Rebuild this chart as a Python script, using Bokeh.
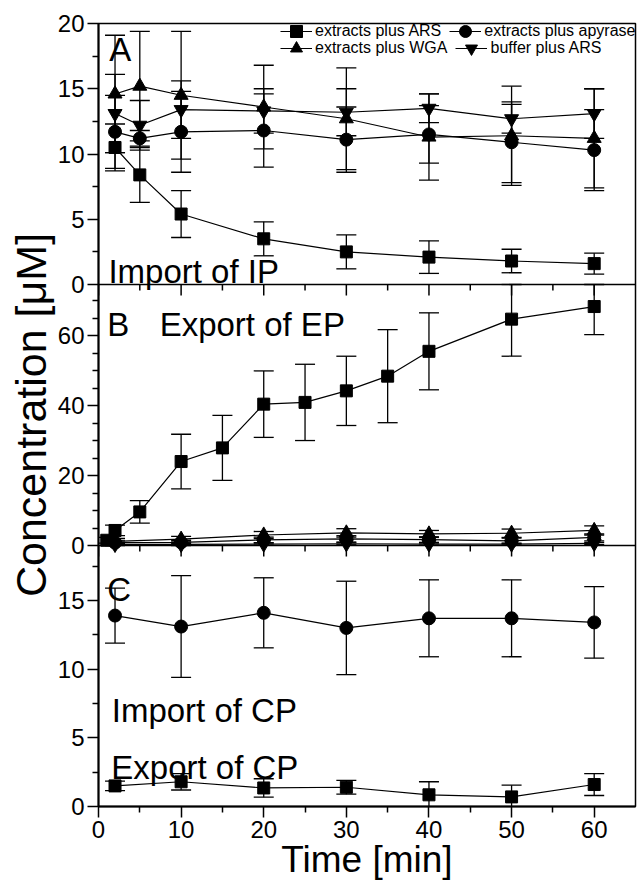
from bokeh.plotting import figure
from bokeh.models import (ColumnDataSource, Whisker, TeeHead, Range1d,
                          FixedTicker, Legend, LegendItem, Label,
                          CustomJSTickFormatter, Span)
from bokeh.embed import file_html
from bokeh.resources import INLINE

FONT = "Liberation Sans"

# ---------------- data ----------------
# Panel A: Import of IP
a_time = [2, 5, 10, 20, 30, 40, 50, 60]
a_ars = [10.5, 8.4, 5.4, 3.5, 2.5, 2.1, 1.8, 1.6]
a_ars_err = [1.8, 2.1, 1.8, 1.3, 1.3, 1.25, 0.9, 0.8]
a_apyrase = [11.7, 11.2, 11.7, 11.8, 11.1, 11.5, 10.9, 10.3]
a_apyrase_err = [2.8, 0.6, 3.1, 2.8, 2.5, 2.2, 3.1, 3.1]
a_wga = [14.6, 15.2, 14.5, 13.6, 12.7, 11.3, 11.4, 11.2]
a_wga_err = [4.5, 4.2, 4.9, 3.2, 3.9, 3.3, 3.8, 3.8]
a_buffer = [13.1, 12.2, 13.4, 13.3, 13.2, 13.5, 12.7, 13.1]
a_buffer_err = [3.0, 1.9, 2.2, 1.7, 1.8, 1.1, 1.1, 1.9]

# Panel B: Export of EP
b_time = [1, 2, 5, 10, 15, 20, 25, 30, 35, 40, 50, 60]
b_ars = [1.5, 4.3, 9.6, 24.0, 27.9, 40.4, 40.9, 44.2, 48.4, 55.5, 64.7, 68.3]
b_ars_err = [0.8, 1.5, 3.2, 7.8, 9.3, 9.5, 10.9, 9.9, 13.3, 11.0, 10.6, 8.0]
b_time2 = [2, 10, 20, 30, 40, 50, 60]
b_wga = [1.2, 1.8, 3.0, 3.6, 3.3, 3.5, 4.3]
b_wga_err = [0.8, 0.8, 1.0, 1.2, 1.0, 1.2, 1.3]
b_apyrase = [0.8, 0.9, 1.6, 1.9, 1.7, 1.3, 2.3]
b_apyrase_err = [0.5, 0.6, 0.8, 0.9, 0.8, 0.8, 1.0]
b_buffer = [0.3, 0.3, 0.4, 0.5, 0.4, 0.4, 0.6]
b_buffer_err = [0.3, 0.3, 0.3, 0.3, 0.3, 0.3, 0.3]

# Panel C: Import / Export of CP
c_time = [2, 10, 20, 30, 40, 50, 60]
c_import = [13.9, 13.1, 14.1, 13.0, 13.7, 13.7, 13.4]
c_import_err = [2.0, 3.7, 2.55, 3.4, 2.8, 2.8, 2.6]
c_export = [1.5, 1.8, 1.35, 1.4, 0.85, 0.7, 1.6]
c_export_err = [0.35, 0.6, 0.67, 0.5, 0.95, 0.85, 0.8]

labels = ["extracts plus ARS", "extracts plus WGA", "extracts plus apyrase", "buffer plus ARS"]

# axis extents and tick values of the three stacked panels
A_END, B_END, C_END, X_END = 20, 74.6, 19, 65
a_yticks = [0, 5, 10, 15, 20]
b_yticks = [0, 20, 40, 60]
c_yticks = [0, 5, 10, 15]
a_yminor = [2.5, 7.5, 12.5, 17.5]
b_yminor = [5, 10, 15, 25, 30, 35, 45, 50, 55, 65, 70]
c_yminor = [2.5, 7.5, 12.5, 17.5]
x_major = [0, 10, 20, 30, 40, 50, 60]
x_minor = [5, 15, 25, 35, 45, 55]

# ---------------- figure ----------------
FRAME_H = 783
PANEL_PX = FRAME_H / 3.0        # pixels per panel (one unit of the shared y range)

p = figure(frame_width=537, frame_height=FRAME_H,
           x_range=Range1d(0, X_END), y_range=Range1d(0, 3),
           output_backend="svg", toolbar_location=None,
           x_axis_location="below", y_axis_location="left",
           min_border_left=98, min_border_right=2,
           min_border_top=23, min_border_bottom=75)
# each panel's own value range; panel C at the bottom, B in the middle, A on top
p.extra_y_ranges = {"A": Range1d(-2 * A_END, A_END),
                    "B": Range1d(-B_END, 2 * B_END),
                    "C": Range1d(0, 3 * C_END)}
p.grid.visible = False
p.outline_line_color = "black"
p.outline_line_width = 1.5
p.background_fill_color = "white"
p.border_fill_color = "white"


def tick_style(ax):
    ax.major_tick_out = 11
    ax.major_tick_in = 0
    ax.minor_tick_out = 6
    ax.minor_tick_in = 0
    ax.major_tick_line_width = 1.5
    ax.minor_tick_line_width = 1.5
    ax.major_tick_line_color = "black"
    ax.minor_tick_line_color = "black"
    ax.axis_line_color = "black"
    ax.axis_line_width = 2
    ax.major_label_text_font = FONT
    ax.major_label_text_font_size = "24px"
    ax.major_label_text_color = "black"
    ax.major_label_standoff = 3


# shared left axis: panel values mapped onto the stacked panel units
pos, lab = [], []
for off, end, ticks in ((0, C_END, c_yticks), (1, B_END, b_yticks), (2, A_END, a_yticks)):
    for v in ticks:
        pos.append(off + v / end)
        lab.append(str(v))
minor_pos = ([v / C_END for v in c_yminor] + [1 + v / B_END for v in b_yminor] +
             [2 + v / A_END for v in a_yminor])

ya = p.yaxis[0]
ya.ticker = FixedTicker(ticks=pos, minor_ticks=minor_pos)
ya.formatter = CustomJSTickFormatter(args=dict(pos=pos, lab=lab), code="""
    let best = ''; let d = 1e9;
    for (let i = 0; i < pos.length; i++) {
        const dd = Math.abs(pos[i] - tick);
        if (dd < d) { d = dd; best = lab[i]; }
    }
    return best;
""")
tick_style(ya)
ya.axis_label = "Concentration [μM]"
ya.axis_label_text_font = FONT
ya.axis_label_text_font_size = "43px"
ya.axis_label_text_font_style = "normal"
ya.axis_label_text_color = "black"
ya.axis_label_standoff = 0

# bottom time axis
xa = p.xaxis[0]
xa.ticker = FixedTicker(ticks=x_major, minor_ticks=x_minor)
tick_style(xa)
xa.axis_label = "Time [min]"
xa.axis_label_text_font = FONT
xa.axis_label_text_font_size = "37px"
xa.axis_label_text_font_style = "normal"
xa.axis_label_text_color = "black"
xa.axis_label_standoff = -2

# panel boundaries with downward ticks (continuation of the time axis)
for b in (1, 2):
    p.add_layout(Span(location=b, dimension="width", line_color="black", line_width=1.5))
    p.segment(x0=x_major, x1=x_major, y0=[b] * len(x_major),
              y1=[b - 11 / PANEL_PX] * len(x_major), line_color="black", line_width=1.5)
    p.segment(x0=x_minor, x1=x_minor, y0=[b] * len(x_minor),
              y1=[b - 6 / PANEL_PX] * len(x_minor), line_color="black", line_width=1.5)


def series(name, t, v, e, marker, size, top=None):
    up = [a + b for a, b in zip(v, e)]
    if top is not None:
        up = [min(u, top) for u in up]
    src = ColumnDataSource(dict(t=t, v=v, up=up, lo=[a - b for a, b in zip(v, e)]))
    w = Whisker(base="t", upper="up", lower="lo", source=src, y_range_name=name,
                line_color="black", line_width=1.3,
                upper_head=TeeHead(size=20, line_color="black", line_width=1.3),
                lower_head=TeeHead(size=20, line_color="black", line_width=1.3))
    p.add_layout(w)
    lr = p.line("t", "v", source=src, line_color="black", line_width=1.2, y_range_name=name)
    sr = p.scatter("t", "v", source=src, marker=marker, size=size,
                   fill_color="black", line_color="black", y_range_name=name)
    return lr, sr


def panel_text(name, x, y, text):
    p.add_layout(Label(x=x, y=y, text=text, text_font=FONT, text_font_size="33px",
                       text_color="black", text_baseline="alphabetic", y_range_name=name))


# ---------------- Panel A ----------------
rA_ars = series("A", a_time, a_ars, a_ars_err, "square", 12)
rA_apy = series("A", a_time, a_apyrase, a_apyrase_err, "circle", 13)
rA_wga = series("A", a_time, a_wga, a_wga_err, "triangle", 14)
rA_buf = series("A", a_time, a_buffer, a_buffer_err, "inverted_triangle", 14)
panel_text("A", 1.3, 18.0, "A")
panel_text("A", 1.2, 1.0, "Import of IP")

# ---------------- Panel B ----------------
series("B", b_time, b_ars, b_ars_err, "square", 12, top=B_END)
series("B", b_time2, b_wga, b_wga_err, "triangle", 14)
series("B", b_time2, b_apyrase, b_apyrase_err, "circle", 13)
series("B", b_time2, b_buffer, b_buffer_err, "inverted_triangle", 14)
panel_text("B", 1.05, 63.1, "B")
panel_text("B", 7.4, 63.1, "Export of EP")

# ---------------- Panel C ----------------
series("C", c_time, c_import, c_import_err, "circle", 13)
series("C", c_time, c_export, c_export_err, "square", 12)
panel_text("C", 1.05, 15.8, "C")
panel_text("C", 1.6, 7.0, "Import of CP")
panel_text("C", 1.55, 2.85, "Export of CP")

# ---------------- legend (two rows) ----------------
leg_kw = dict(orientation="horizontal", label_text_font=FONT, label_text_font_size="16px",
              label_text_color="black", label_height=30, glyph_height=30, glyph_width=32,
              label_standoff=3, spacing=8, padding=0, margin=0,
              border_line_color=None, background_fill_alpha=0)
leg1 = Legend(items=[LegendItem(label=labels[0], renderers=list(rA_ars)),
                     LegendItem(label=labels[2], renderers=list(rA_apy))],
              location=(182, 760), **leg_kw)
leg2 = Legend(items=[LegendItem(label=labels[1], renderers=list(rA_wga)),
                     LegendItem(label=labels[3], renderers=list(rA_buf))],
              location=(182, 743), **leg_kw)
p.add_layout(leg1)
p.add_layout(leg2)

open("out.html", "w").write(file_html(p, INLINE))
